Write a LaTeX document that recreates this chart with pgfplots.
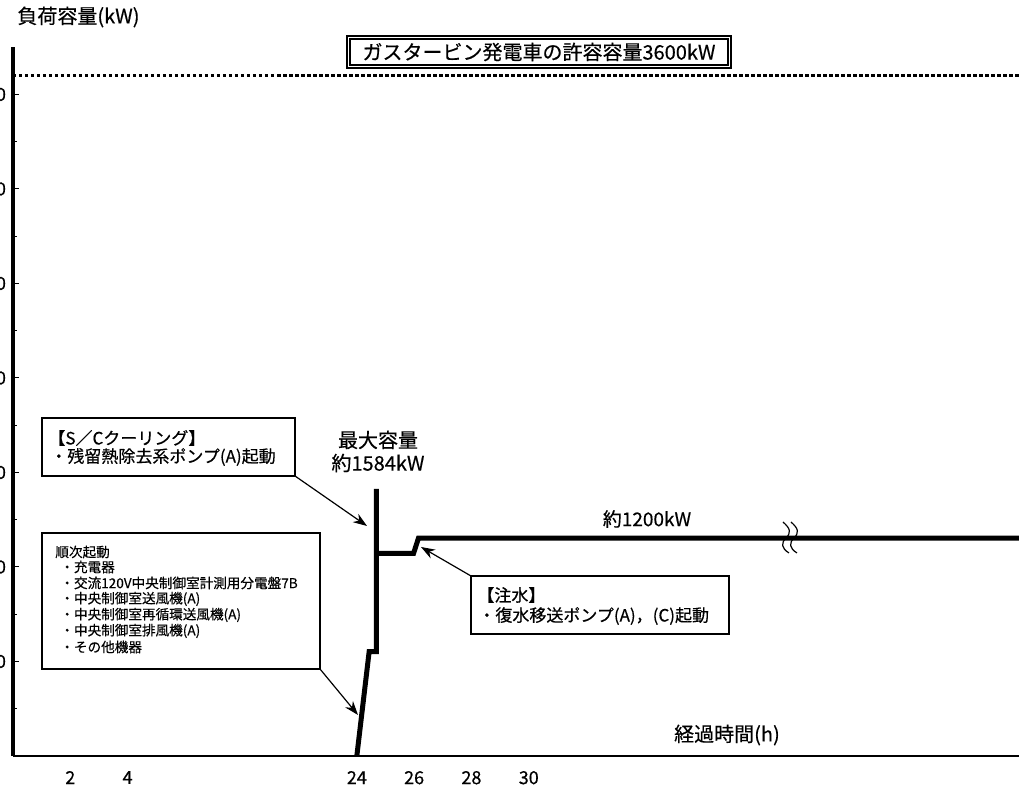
\documentclass[border=0pt]{standalone}
\usepackage{fontspec}
\setmainfont{Noto Sans CJK JP}[FakeBold=0.4]
\usepackage{pgfplots}
\pgfplotsset{compat=1.18}
\usetikzlibrary{arrows.meta}
\begin{document}
\begin{tikzpicture}
\begin{axis}[
  scale only axis, width=503pt, height=354.5pt,
  xmin=0, xmax=35.11, ymin=0, ymax=3751,
  axis lines=left, axis line style={-},
  x axis line style={line width=1.2pt},
  y axis line style={line width=1.8pt},
  xtick={2,4,12,14,16,18}, xticklabels={2,4,24,26,28,30},
  xtick style={draw=none},
  ytick={500,1000,...,3500},
  minor ytick={250,750,...,3250},
  tick align=inside,
  major tick length=3pt, minor tick length=2pt,
  ytick style={black, line width=0.5pt},
  ticklabel style={font=\fontsize{9}{10}\selectfont},
  xticklabel style={yshift=-4pt},
  /pgf/number format/assume math mode=true,
  /pgf/number format/1000 sep={},
  clip=false,
]
% dotted limit line (3600 kW)
\addplot[black, line width=1.5pt, dash pattern=on 1.75pt off 1.25pt] coordinates {(0,3600) (35.11,3600)};
% load curve
\addplot[black, line width=2.5pt, line join=miter] coordinates {
(12.0,0) (12.43,552) (12.68,552) (12.68,1413) (12.68,1072)
(13.98,1072) (14.15,1152) (35.11,1152)};
\coordinate (O) at (axis cs:0,0);
\end{axis}
\pgfresetboundingbox
\begin{scope}[shift={(O)}, xshift=-6.5pt, yshift=378pt, x=0.5pt, y=-0.5pt]
\path[use as bounding box] (0,0) rectangle (1019,792);
\node[anchor=west, inner sep=0, font=\fontsize{10}{11}\selectfont] at (17,17) {負荷容量(kW)};
% title box
\draw[line width=0.6pt] (347,36) rectangle (731,68);
\draw[line width=0.6pt] (350,39) rectangle (728,65);
\node[font=\fontsize{10}{11}\selectfont] at (539,52) {ガスタービン発電車の許容容量3600kW};
% max capacity
\node[font=\fontsize{10}{11}\selectfont] at (378,440) {最大容量};
\node[font=\fontsize{10}{11}\selectfont] at (378,463) {約1584kW};
% box 1
\draw[line width=0.6pt] (42,418) rectangle (295,476);
\node[anchor=west, inner sep=0, font=\fontsize{8.5}{10}\selectfont] at (48,438) {【S／Cクーリング】};
\node[anchor=west, inner sep=0, font=\fontsize{8.5}{10}\selectfont] at (50,457) {・残留熱除去系ポンプ(A)起動};
% box 2
\draw[line width=0.6pt] (42,533) rectangle (320,669);
\begin{scope}[every node/.style={anchor=west, inner sep=0, font=\fontsize{6.8}{8}\selectfont}]
\node at (55,552) {順次起動};
\node at (60,567) {・充電器};
\node at (60,583) {・交流120V中央制御室計測用分電盤7B};
\node at (60,599) {・中央制御室送風機(A)};
\node at (60,615) {・中央制御室再循環送風機(A)};
\node at (60,631) {・中央制御室排風機(A)};
\node at (60,647) {・その他機器};
\end{scope}
% box 3
\draw[line width=0.6pt] (471,576) rectangle (729,634);
\node[anchor=west, inner sep=0, font=\fontsize{8.5}{10}\selectfont] at (477,595) {【注水】};
\node[anchor=west, inner sep=0, font=\fontsize{8.5}{10}\selectfont] at (478,616) {・復水移送ポンプ(A)，(C)起動};
% labels
\node[font=\fontsize{9.5}{11}\selectfont] at (647,519) {約1200kW};
\node[font=\fontsize{10}{11}\selectfont] at (727,735) {経過時間(h)};
% arrows
\draw[line width=0.6pt, -{Stealth[length=7pt, width=5pt]}] (295,476) -- (367,526);
\draw[line width=0.6pt, -{Stealth[length=7pt, width=5pt]}] (320,669) -- (358,715);
\draw[line width=0.6pt, -{Stealth[length=7pt, width=5pt]}] (471,576) -- (421,547);
% break marks
\draw[line width=0.6pt] (783,522) .. controls (791,529) and (791,533) .. (786,538) .. controls (781,543) and (781,548) .. (789,553);
\draw[line width=0.6pt] (791,522) .. controls (799,529) and (799,533) .. (794,538) .. controls (789,543) and (789,548) .. (797,553);
\end{scope}
\end{tikzpicture}
\end{document}
